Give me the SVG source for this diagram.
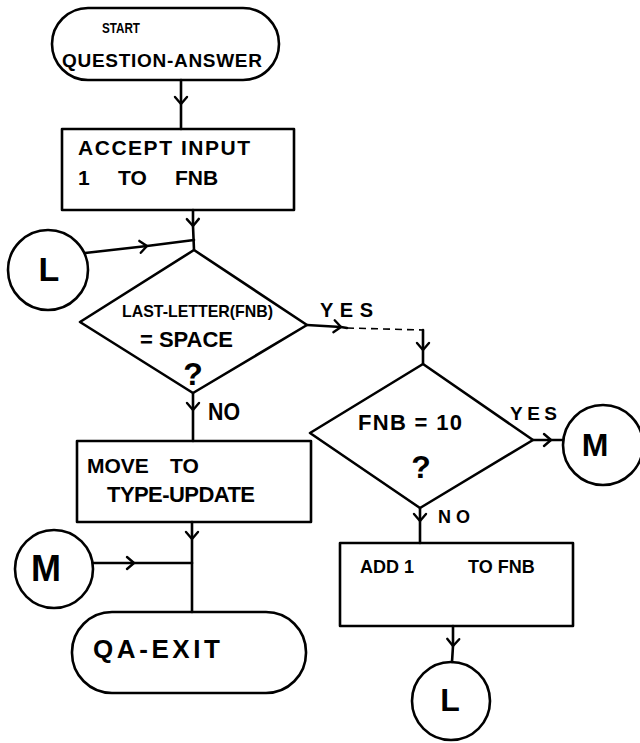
<svg xmlns="http://www.w3.org/2000/svg" width="640" height="743" viewBox="0 0 640 743">
  <defs>
    <style>
      .shape { fill: none; stroke: #000; stroke-width: 2.6; stroke-linejoin: round; }
      .wire { fill: none; stroke: #000; stroke-width: 2.6; stroke-linecap: round; marker-mid: url(#chev); }
      .dash { fill: none; stroke: #000; stroke-width: 1.6; stroke-dasharray: 7 5; }
      text { font-family: "Liberation Sans", Arial, sans-serif; font-weight: bold; fill: #000; }
      .mid { text-anchor: middle; }
    </style>
    <marker id="chev" viewBox="-10 -8 12 16" markerUnits="userSpaceOnUse" markerWidth="12" markerHeight="16" refX="0" refY="0" orient="auto" overflow="visible">
      <path d="M-7,-6 L0,0 L-7,6" fill="none" stroke="#000" stroke-width="2.4" stroke-linecap="round" stroke-linejoin="round"/>
    </marker>
  </defs>
  <rect width="640" height="743" fill="#fff"/>

  <!-- connectors -->
  <g id="connectors">
    <path class="wire" d="M181,80 L181,104 L181,129"/>
    <path class="wire" d="M193,210 L193,226 L194,250"/>
    <path class="wire" d="M85,253 L147,246 L194,240"/>
    <path class="wire" d="M193,393 L193,410 L193,441"/>
    <path class="wire" d="M307,325 L341,327 L347,328"/>
    <path class="dash" d="M347,328 L423,330"/>
    <path class="wire" d="M423,330 L423,350 L423,364"/>
    <path class="wire" d="M533,440 L551,440 L563,440"/>
    <path class="wire" d="M420,508 L420,521 L420,543"/>
    <path class="wire" d="M453,626 L453,646 L452,662"/>
    <path class="wire" d="M192,522 L192,539 L192,612"/>
    <path class="wire" d="M93,563 L134,563 L192,563"/>
  </g>

  <!-- start terminal -->
  <g id="start">
    <rect class="shape" x="52" y="8" width="227" height="72" rx="36" ry="36"/>
    <text x="102" y="33" font-size="15" textLength="38" lengthAdjust="spacingAndGlyphs">START</text>
    <text x="62" y="67" font-size="19" textLength="200">QUESTION-ANSWER</text>
  </g>

  <!-- accept input -->
  <g id="accept">
    <rect class="shape" x="62" y="129" width="232" height="81"/>
    <text x="78" y="155" font-size="21" textLength="172">ACCEPT INPUT</text>
    <text y="185" font-size="21"><tspan x="78">1</tspan><tspan x="118">TO</tspan><tspan x="175">FNB</tspan></text>
  </g>

  <!-- connector L (entry) -->
  <g id="conn-l-in">
    <circle class="shape" cx="48" cy="270" r="40"/>
    <text class="mid" x="49" y="281" font-size="34">L</text>
  </g>

  <!-- decision: last letter is space -->
  <g id="decide-space">
    <path class="shape" d="M194,250 L307,325 L193,393 L80,322 Z"/>
    <text x="122" y="317" font-size="17" textLength="151" lengthAdjust="spacingAndGlyphs">LAST-LETTER(FNB)</text>
    <text x="140" y="347" font-size="22" textLength="93">= SPACE</text>
    <text class="mid" x="193" y="385" font-size="32">?</text>
    <text x="320" y="317" font-size="20" textLength="53">YES</text>
    <text x="208" y="420" font-size="24" textLength="32" lengthAdjust="spacingAndGlyphs">NO</text>
  </g>

  <!-- move to type-update -->
  <g id="move">
    <rect class="shape" x="77" y="441" width="234" height="81"/>
    <text y="473" font-size="21"><tspan x="87">MOVE</tspan><tspan x="170">TO</tspan></text>
    <text x="107" y="502" font-size="22" textLength="148">TYPE-UPDATE</text>
  </g>

  <!-- connector M (entry) -->
  <g id="conn-m-in">
    <circle class="shape" cx="54" cy="569" r="39"/>
    <text class="mid" x="46" y="581" font-size="36">M</text>
  </g>

  <!-- exit terminal -->
  <g id="qa-exit">
    <rect class="shape" x="72" y="612" width="234" height="81" rx="40" ry="40"/>
    <text x="93" y="658" font-size="26" textLength="127">QA-EXIT</text>
  </g>

  <!-- decision: counter limit -->
  <g id="decide-fnb">
    <path class="shape" d="M423,364 L533,440 L420,508 L310,433 Z"/>
    <text x="358" y="430" font-size="22" textLength="104">FNB = 10</text>
    <text class="mid" x="421" y="478" font-size="32">?</text>
    <text x="510" y="420" font-size="19" textLength="47">YES</text>
    <text x="438" y="523" font-size="18" textLength="32">NO</text>
  </g>

  <!-- connector M (exit) -->
  <g id="conn-m-out">
    <circle class="shape" cx="603" cy="445" r="40"/>
    <text class="mid" x="595" y="456" font-size="32">M</text>
  </g>

  <!-- add 1 to fnb -->
  <g id="add">
    <rect class="shape" x="340" y="543" width="233" height="83"/>
    <text y="573" font-size="18"><tspan x="360">ADD 1</tspan><tspan x="468">TO FNB</tspan></text>
  </g>

  <!-- connector L (exit) -->
  <g id="conn-l-out">
    <circle class="shape" cx="451" cy="701" r="39"/>
    <text class="mid" x="450" y="711" font-size="32">L</text>
  </g>
</svg>
